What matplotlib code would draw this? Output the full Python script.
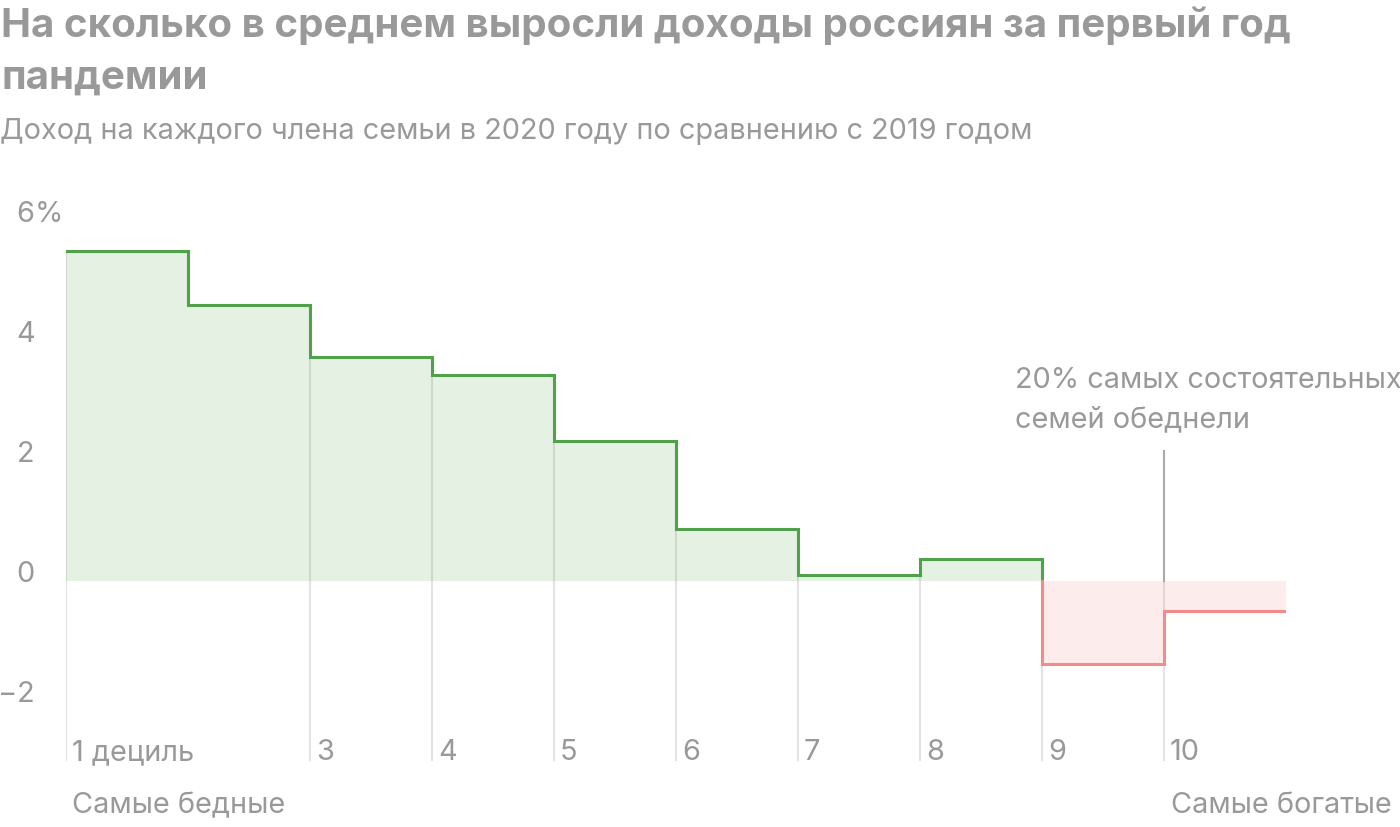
import matplotlib
matplotlib.use("Agg")
import matplotlib.pyplot as plt
from matplotlib.transforms import blended_transform_factory

plt.rcParams['font.family'] = ['Inter', 'DejaVu Sans']

# ---- data ----
deciles = [1, 2, 3, 4, 5, 6, 7, 8, 9, 10]
values = [5.5, 4.6, 3.73, 3.43, 2.33, 0.87, 0.1, 0.36, -1.39, -0.5]
x_labels = ["1 дециль", "", "3", "4", "5", "6", "7", "8", "9", "10"]
y_ticks = [-2, 0, 2, 4, 6]
title_lines = ["На сколько в среднем выросли доходы россиян за первый год",
               "пандемии"]
subtitle = "Доход на каждого члена семьи в 2020 году по сравнению с 2019 годом"
annotation_lines = ["20% самых состоятельных", "семей обеднели"]
annot_top = 2.16
left_note = "Самые бедные"
right_note = "Самые богатые"

W, H = 1400, 828
fig = plt.figure(figsize=(W / 100, H / 100), dpi=100)
ax = fig.add_axes([66 / W, (H - 762) / H, 1220 / W, 540 / H])
ax.set_xlim(0, 10)
ax.set_ylim(-3, 6)
ax.axis('off')

GREEN = '#4fa249'
RED = '#f58a8a'
GREY = '#999999'
GRID = '#e3e3e3'
FS = 20.8
TFS = 29

n = len(values)
edges = list(range(n + 1))

# vertical grid lines (left edge of each decile, except the 2nd)
for i, v in enumerate(values):
    if x_labels[i] == "":
        continue
    ax.plot([edges[i], edges[i]], [-3, max(v, 0)], color=GRID, lw=1.5,
            zorder=1, solid_capstyle='butt')

# fills
for i, v in enumerate(values):
    col = GREEN if v >= 0 else RED
    a = 0.15 if v >= 0 else 0.16
    ax.fill_between([edges[i], edges[i + 1]], [0, 0], [v, v], color=col,
                    alpha=a, lw=0, zorder=2)

# step lines
pos = [i for i, v in enumerate(values) if v >= 0]
neg = [i for i, v in enumerate(values) if v < 0]
gx, gy = [], []
for i in pos:
    gx.append(edges[i]); gy.append(values[i])
    gx.append(edges[i + 1]); gy.append(values[i])
gx.append(edges[pos[-1] + 1]); gy.append(0)
ax.plot(gx, gy, color=GREEN, lw=2.2, zorder=4, solid_joinstyle='miter')

rx, ry = [edges[neg[0]]], [0]
for i in neg:
    rx.append(edges[i]); ry.append(values[i])
    rx.append(edges[i + 1]); ry.append(values[i])
ax.plot(rx, ry, color=RED, lw=2.2, zorder=4, solid_joinstyle='miter')

# annotation line
ax.plot([9, 9], [0, annot_top], color='#aaaaaa', lw=1.5, zorder=3)

# y tick labels
tr = blended_transform_factory(fig.transFigure, ax.transData)
for t in y_ticks:
    s = f"{t}".replace("-", "\u2212")
    ax.text(34.5 / W, t, s, transform=tr, ha='right', va='baseline',
            fontsize=FS, color=GREY)
    if t == max(y_ticks):
        ax.text(34.5 / W, t, "%", transform=tr, ha='left', va='baseline',
                fontsize=FS, color=GREY)

# x labels
for i, lab in enumerate(x_labels):
    if lab:
        ax.text(edges[i] + 6 / 122, -2.97, lab, ha='left', va='baseline',
                fontsize=FS, color=GREY)

# titles
fig.text(1 / W, 1 - 37 / H, title_lines[0], fontsize=TFS, fontweight='bold',
         color=GREY, ha='left', va='baseline')
fig.text(1 / W, 1 - 89 / H, title_lines[1], fontsize=TFS, fontweight='bold',
         color=GREY, ha='left', va='baseline')
fig.text(0 / W, 1 - 139 / H, subtitle, fontsize=FS, color=GREY,
         ha='left', va='baseline')

# annotation text
fig.text(1015 / W, 1 - 388 / H, annotation_lines[0], fontsize=FS, color=GREY,
         ha='left', va='baseline')
fig.text(1015 / W, 1 - 427 / H, annotation_lines[1], fontsize=FS, color=GREY,
         ha='left', va='baseline')

# bottom notes
fig.text(72 / W, 1 - 813 / H, left_note, fontsize=FS, color=GREY,
         ha='left', va='baseline')
fig.text(1392 / W, 1 - 813 / H, right_note, fontsize=FS, color=GREY,
         ha='right', va='baseline')

fig.savefig("out.png", dpi=100)
